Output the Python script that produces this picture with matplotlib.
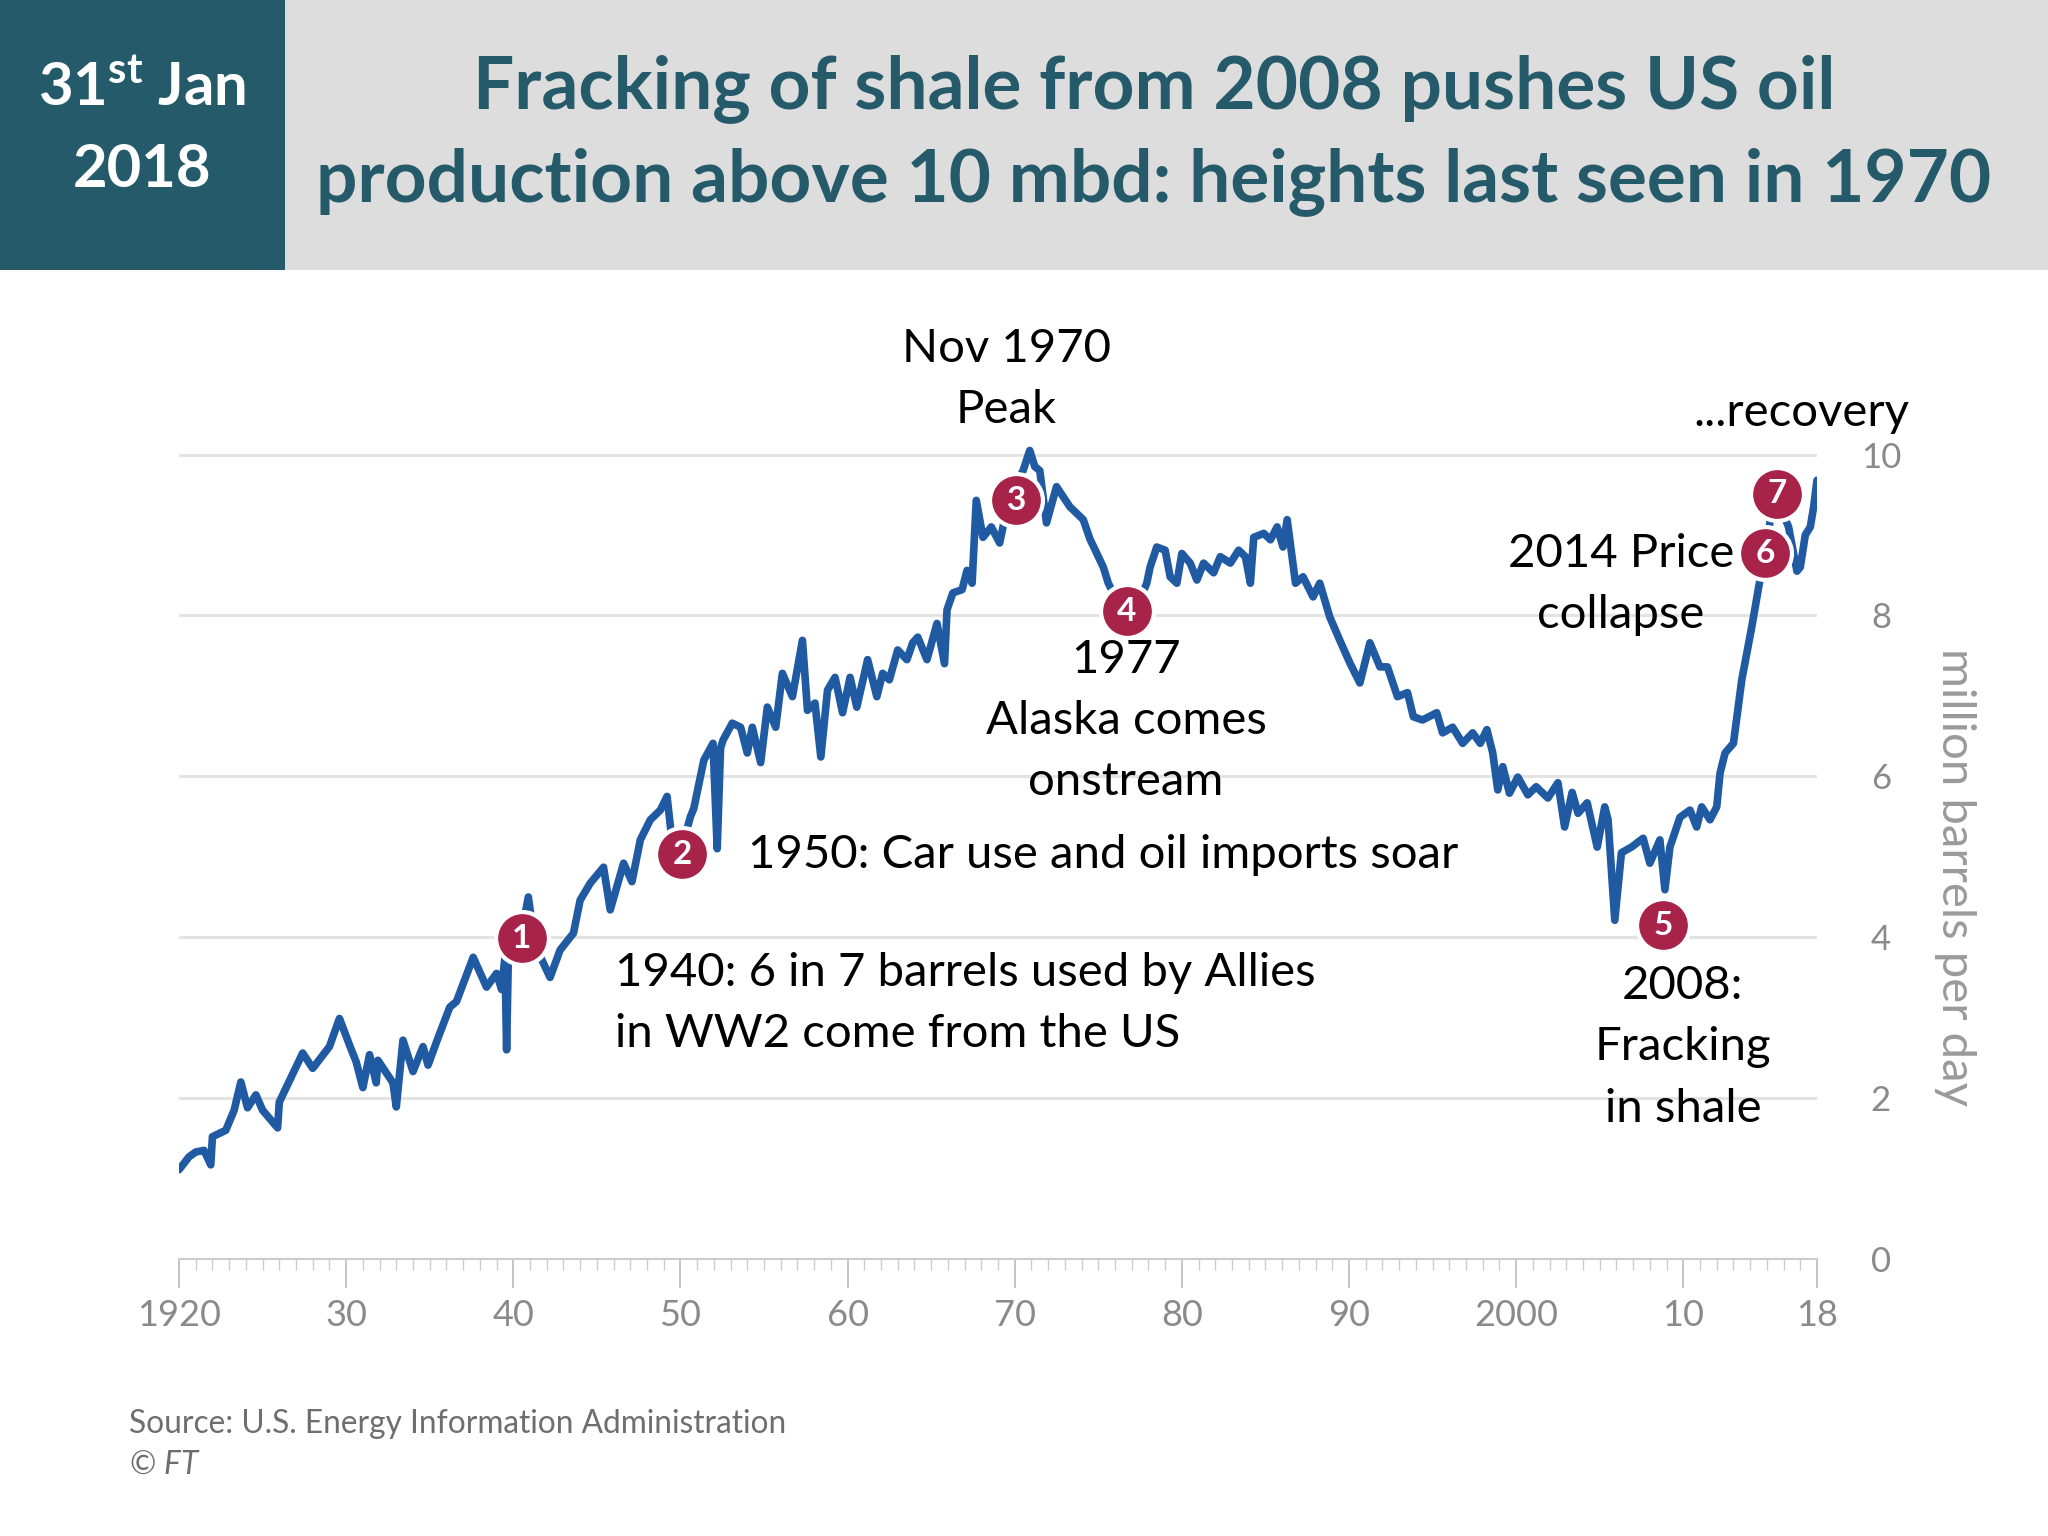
import matplotlib
matplotlib.use("Agg")
import matplotlib.pyplot as plt
from matplotlib.patches import Rectangle
from matplotlib.ticker import FixedLocator, MultipleLocator

# ---------------- data ----------------
years = [1920.0, 1920.6, 1921.0, 1921.5, 1921.9, 1922.0, 1922.8, 1923.3, 1923.7, 1924.1,
         1924.6, 1925.0, 1925.9, 1926.0, 1926.8, 1927.4, 1928.0, 1929.0, 1929.6, 1930.2,
         1930.6, 1931.0, 1931.4, 1931.8, 1931.9, 1932.8, 1933.0, 1933.4, 1934.0, 1934.6,
         1934.9, 1935.5, 1936.2, 1936.6, 1937.6, 1938.4, 1939.0, 1939.3, 1939.5, 1939.6,
         1939.7, 1940.4, 1940.9, 1941.3, 1942.2, 1942.8, 1943.6, 1944.0, 1944.6, 1945.4,
         1945.8, 1946.6, 1947.1, 1947.6, 1948.2, 1948.8, 1949.2, 1949.6, 1950.2, 1950.6,
         1950.8, 1951.1, 1951.4, 1951.95, 1952.2, 1952.4, 1952.55, 1953.1, 1953.6, 1954.0,
         1954.3, 1954.8, 1955.2, 1955.7, 1956.1, 1956.7, 1957.3, 1957.6, 1958.05, 1958.4,
         1958.8, 1959.25, 1959.7, 1960.15, 1960.55, 1961.2, 1961.75, 1962.1, 1962.5, 1963.0,
         1963.55, 1963.9, 1964.2, 1964.75, 1965.35, 1965.8, 1965.95, 1966.3, 1966.85, 1967.15,
         1967.45, 1967.7, 1968.1, 1968.6, 1969.1, 1969.5, 1970.0, 1970.5, 1970.9, 1971.2,
         1971.5, 1971.9, 1972.5, 1973.3, 1974.1, 1974.5, 1975.3, 1975.6, 1976.2, 1976.9,
         1977.6, 1977.9, 1978.1, 1978.5, 1979.0, 1979.3, 1979.7, 1980.0, 1980.5, 1980.9,
         1981.3, 1981.9, 1982.3, 1982.9, 1983.4, 1983.8, 1984.1, 1984.3, 1984.9, 1985.3,
         1985.7, 1986.05, 1986.3, 1986.8, 1987.25, 1987.85, 1988.25, 1988.85, 1989.45, 1990.05,
         1990.65, 1991.25, 1991.85, 1992.3, 1992.9, 1993.5, 1993.85, 1994.4, 1995.25, 1995.6,
         1996.2, 1996.8, 1997.4, 1997.85, 1998.25, 1998.6, 1998.9, 1999.2, 1999.6, 2000.1,
         2000.7, 2001.2, 2001.9, 2002.5, 2002.9, 2003.35, 2003.7, 2004.25, 2004.85, 2005.3,
         2005.5, 2005.9, 2006.3, 2006.9, 2007.6, 2008.0, 2008.6, 2008.9, 2009.2, 2009.8,
         2010.4, 2010.8, 2011.1, 2011.6, 2012.0, 2012.2, 2012.5, 2013.0, 2013.5, 2014.1,
         2014.5, 2014.9, 2015.3, 2015.7, 2016.0, 2016.3, 2016.8, 2017.0, 2017.3, 2017.6,
         2017.8, 2018.0]
production = [1.11, 1.27, 1.33, 1.35, 1.17, 1.52, 1.60, 1.85, 2.20, 1.88,
              2.04, 1.85, 1.63, 1.95, 2.30, 2.56, 2.37, 2.64, 2.99, 2.66,
              2.45, 2.13, 2.54, 2.19, 2.47, 2.19, 1.89, 2.72, 2.33, 2.64,
              2.41, 2.75, 3.13, 3.20, 3.75, 3.38, 3.55, 3.35, 3.75, 2.60,
              3.70, 3.95, 4.50, 3.90, 3.50, 3.84, 4.05, 4.46, 4.67, 4.87,
              4.34, 4.92, 4.69, 5.21, 5.46, 5.58, 5.75, 5.00, 5.20, 5.50,
              5.60, 5.90, 6.20, 6.41, 5.10, 6.35, 6.45, 6.66, 6.61, 6.29,
              6.61, 6.17, 6.86, 6.61, 7.28, 6.99, 7.69, 6.82, 6.91, 6.24,
              7.07, 7.23, 6.79, 7.23, 6.86, 7.45, 6.99, 7.28, 7.20, 7.57,
              7.45, 7.66, 7.73, 7.45, 7.90, 7.40, 8.07, 8.28, 8.32, 8.56,
              8.40, 9.43, 8.97, 9.10, 8.90, 9.30, 9.60, 9.80, 10.05, 9.85,
              9.80, 9.15, 9.60, 9.35, 9.19, 8.95, 8.60, 8.40, 8.15, 8.05,
              8.25, 8.40, 8.60, 8.85, 8.81, 8.48, 8.40, 8.77, 8.65, 8.44,
              8.65, 8.53, 8.73, 8.65, 8.81, 8.73, 8.40, 8.97, 9.02, 8.94,
              9.10, 8.85, 9.19, 8.40, 8.48, 8.23, 8.40, 7.98, 7.69, 7.41,
              7.16, 7.66, 7.36, 7.36, 6.99, 7.04, 6.74, 6.70, 6.79, 6.54,
              6.61, 6.41, 6.54, 6.41, 6.58, 6.29, 5.83, 6.12, 5.79, 5.99,
              5.77, 5.87, 5.73, 5.92, 5.37, 5.80, 5.54, 5.67, 5.12, 5.62,
              5.46, 4.21, 5.05, 5.12, 5.23, 4.92, 5.21, 4.59, 5.12, 5.49,
              5.58, 5.37, 5.62, 5.46, 5.62, 6.04, 6.29, 6.41, 7.20, 7.86,
              8.34, 8.80, 9.30, 9.45, 9.25, 9.10, 8.55, 8.60, 9.00, 9.10,
              9.35, 9.68]
assert len(years) == len(production)

marker_years = [1940.5, 1950.1, 1970.1, 1976.7, 2008.8, 2014.9, 2015.6]
marker_values = [3.99, 5.03, 9.43, 8.05, 4.15, 8.77, 9.51]
marker_labels = ["1", "2", "3", "4", "5", "6", "7"]

x_ticks = [1920, 1930, 1940, 1950, 1960, 1970, 1980, 1990, 2000, 2010, 2018]
x_ticklabels = ["1920", "30", "40", "50", "60", "70", "80", "90", "2000", "10", "18"]
y_ticks = [0, 2, 4, 6, 8, 10]
y_ticklabels = ["0", "2", "4", "6", "8", "10"]

title_lines = ["Fracking of shale from 2008 pushes US oil",
               "production above 10 mbd: heights last seen in 1970"]
date_lines = [r"$\mathbf{31^{st}}$ Jan", "2018"]

# ---------------- style ----------------
TEAL = "#245a69"
HEADER_GRAY = "#dcdddc"
LINE_BLUE = "#1f5aa3"
MARK_RED = "#a8234a"
GRID = "#e3e3e3"
TICKGRAY = "#8a8a8a"

plt.rcParams['font.family'] = ['Lato', 'DejaVu Sans']
plt.rcParams['mathtext.fontset'] = 'custom'
plt.rcParams['mathtext.bf'] = 'Lato:bold'
plt.rcParams['mathtext.rm'] = 'Lato'
plt.rcParams['mathtext.it'] = 'Lato:italic'

W, H = 2048, 1536
fig = plt.figure(figsize=(W / 100, H / 100), dpi=100, facecolor="white")

# header
fig.patches.append(Rectangle((0, 1 - 270 / H), 1, 270 / H, transform=fig.transFigure,
                             facecolor=HEADER_GRAY, edgecolor="none", zorder=0))
fig.patches.append(Rectangle((0, 1 - 270 / H), 285 / W, 270 / H, transform=fig.transFigure,
                             facecolor=TEAL, edgecolor="none", zorder=1))
fig.text(142 / W, 1 - 89 / H, date_lines[0], color="white", fontsize=43,
         fontweight="bold", ha="center", va="center")
fig.text(142 / W, 1 - 170 / H, date_lines[1], color="white", fontsize=43,
         fontweight="bold", ha="center", va="center")
fig.text(1154 / W, 1 - 89 / H, title_lines[0], color=TEAL, fontsize=52.5,
         fontweight="bold", ha="center", va="center")
fig.text(1154 / W, 1 - 182 / H, title_lines[1], color=TEAL, fontsize=52.5,
         fontweight="bold", ha="center", va="center")

# axes
x0, x1 = 179, 1817
y_zero = 1259
px_per_unit = 80.45
ymax = 10.35
ax = fig.add_axes([x0 / W, 1 - y_zero / H, (x1 - x0) / W, ymax * px_per_unit / H])
ax.set_xlim(1920, 2018)
ax.set_ylim(0, ymax)
ax.set_facecolor("none")

for s in ["top", "left", "right"]:
    ax.spines[s].set_visible(False)
ax.spines["bottom"].set_color("#cccccc")
ax.spines["bottom"].set_linewidth(1.5)

ax.xaxis.set_major_locator(FixedLocator(x_ticks))
ax.set_xticklabels(x_ticklabels)
ax.xaxis.set_minor_locator(MultipleLocator(1))
ax.tick_params(axis="x", which="major", length=21, width=1.2, color="#bbbbbb",
               labelsize=26, labelcolor=TICKGRAY, pad=8)
ax.tick_params(axis="x", which="minor", length=8, width=1.0, color="#cccccc")

ax.yaxis.tick_right()
ax.set_yticks(y_ticks)
ax.set_yticklabels(y_ticklabels)
ax.tick_params(axis="y", length=0, labelsize=25, labelcolor=TICKGRAY, pad=46)
for lab in ax.get_yticklabels():
    lab.set_horizontalalignment("center")
ax.grid(axis="y", color=GRID, linewidth=2.2, zorder=0)
ax.grid(axis="x", visible=False)

ax.plot(years, production, color=LINE_BLUE, linewidth=5.5, solid_joinstyle="round",
        solid_capstyle="round", zorder=3)

ax.scatter(marker_years, marker_values, s=1450, color=MARK_RED, edgecolors="white",
           linewidths=3.0, zorder=5)
for xm, ym, lab in zip(marker_years, marker_values, marker_labels):
    ax.text(xm, ym, lab, color="white", fontsize=24, fontweight="bold",
            ha="center", va="center", zorder=6)

fig.text(1955 / W, 1 - 877 / H, "million barrels per day", rotation=270,
         color="#9a9a9a", fontsize=34, ha="center", va="center")

# annotations (figure pixel positions)
def ftxt(x, y, s, **kw):
    fig.text(x / W, 1 - y / H, s, color="black", fontsize=34, va="center", **kw)

ftxt(1006, 349, "Nov 1970", ha="center")
ftxt(1006, 410, "Peak", ha="center")
ftxt(1909, 413, "...recovery", ha="right")
ftxt(1621, 554, "2014 Price", ha="center")
ftxt(1621, 615, "collapse", ha="center")
ftxt(1126, 660, "1977", ha="center")
ftxt(1126, 721, "Alaska comes", ha="center")
ftxt(1126, 782, "onstream", ha="center")
ftxt(748, 855, "1950: Car use and oil imports soar", ha="left")
ftxt(615, 973, "1940: 6 in 7 barrels used by Allies", ha="left")
ftxt(615, 1034, "in WW2 come from the US", ha="left")
ftxt(1683, 986, "2008:", ha="center")
ftxt(1683, 1047, "Fracking", ha="center")
ftxt(1683, 1109, "in shale", ha="center")

fig.text(129 / W, 1 - 1424 / H, "Source: U.S. Energy Information Administration",
         color="#6e6e6e", fontsize=22.8, ha="left", va="center")
fig.text(129 / W, 1 - 1465 / H, "© $\\mathit{FT}$", color="#6e6e6e", fontsize=22.8,
         ha="left", va="center")

fig.savefig("out.png", dpi=100, facecolor="white")
